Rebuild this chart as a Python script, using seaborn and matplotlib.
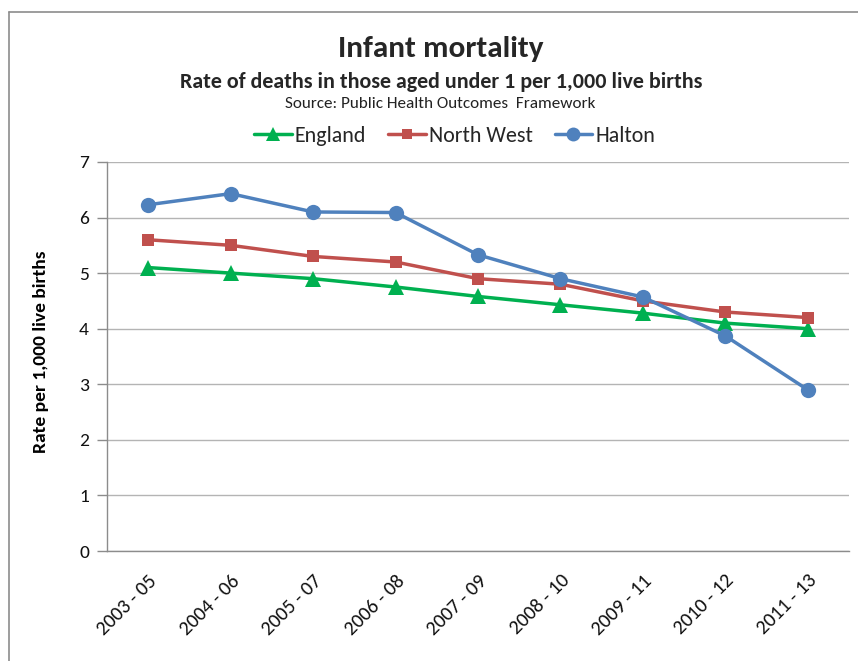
import matplotlib
matplotlib.use("Agg")
import matplotlib.pyplot as plt
from matplotlib.lines import Line2D
from matplotlib import font_manager
import numpy as np
import pandas as pd
import seaborn as sns

# Three-year pooled periods
periods = ["2003 - 05", "2004 - 06", "2005 - 07", "2006 - 08", "2007 - 09",
           "2008 - 10", "2009 - 11", "2010 - 12", "2011 - 13"]

# Infant deaths per 1,000 live births
england = [5.1, 5.0, 4.9, 4.75, 4.58, 4.43, 4.28, 4.1, 4.0]
north_west = [5.6, 5.5, 5.3, 5.2, 4.9, 4.8, 4.5, 4.3, 4.2]
halton = [6.23, 6.43, 6.1, 6.09, 5.33, 4.9, 4.57, 3.87, 2.9]

series_names = ["England", "North West", "Halton"]
series_values = [england, north_west, halton]
colors = {"England": "#00B050", "North West": "#C0504D", "Halton": "#4F81BD"}
markers = {"England": "^", "North West": "s", "Halton": "o"}
marker_sizes = {"England": 11, "North West": 8, "Halton": 11}

df = pd.DataFrame({
    "period": np.tile(np.arange(len(periods)), len(series_names)),
    "area": np.repeat(series_names, len(periods)),
    "rate": np.concatenate(series_values),
})

sns.set_theme(style="white")
installed = {f.name for f in font_manager.fontManager.ttflist}
main_font = "Carlito" if "Carlito" in installed else "Lato"
plt.rcParams["font.family"] = [main_font, "DejaVu Sans"]

fig = plt.figure(figsize=(8.58, 6.61), dpi=100)
ax = fig.add_axes([0.1247, 0.1664, 0.8648, 0.5886])

for name in series_names:
    sub = df[df["area"] == name]
    sns.lineplot(data=sub, x="period", y="rate", ax=ax, color=colors[name],
                 linewidth=2.5, marker=markers[name], markersize=marker_sizes[name],
                 markeredgewidth=0, legend=False, zorder=3)

ax.set_xlim(-0.5, len(periods) - 0.5)
ax.set_ylim(0, 7)
ax.set_yticks(range(0, 8))
ax.set_yticklabels([str(v) for v in range(0, 8)], fontsize=14, color="#111111")
ax.set_xticks(range(len(periods)))
ax.set_xticklabels(periods, rotation=45, ha="right", rotation_mode="anchor",
                   fontsize=14.5, color="#111111")
ax.set_xticks(np.arange(-0.5, len(periods)), minor=True)
ax.tick_params(axis="x", which="major", length=0, pad=15)
ax.tick_params(axis="x", which="minor", length=6, width=1, color="#8c8c8c", direction="out")
ax.tick_params(axis="y", which="major", length=7, width=1, color="#8c8c8c",
               direction="out", left=True, pad=6)

ax.grid(axis="y", color="#b4b4b4", linewidth=1)
ax.set_axisbelow(True)
for side in ["top", "right"]:
    ax.spines[side].set_visible(False)
for side in ["left", "bottom"]:
    ax.spines[side].set_color("#8c8c8c")
    ax.spines[side].set_linewidth(1)

ax.set_xlabel("")
ax.set_ylabel("Rate per 1,000 live births", fontsize=14, fontweight="bold",
              color="black")
ax.yaxis.set_label_coords(-0.078, 0.512)

fig.text(0.514, 0.926, "Infant mortality", ha="center", va="center",
         fontsize=22.5, fontweight="bold")
fig.text(0.514, 0.876, "Rate of deaths in those aged under 1 per 1,000 live births",
         ha="center", va="center", fontsize=15.8, fontweight="bold")
fig.text(0.513, 0.843, "Source: Public Health Outcomes  Framework",
         ha="center", va="center", fontsize=12.3, color="#222222")

handles = [Line2D([], [], color=colors[n], marker=markers[n], linewidth=2.5,
                  markersize=marker_sizes[n] - 1, markeredgewidth=0) for n in series_names]
fig.legend(handles, series_names, loc="center", bbox_to_anchor=(0.53, 0.795),
           ncol=3, frameon=False, fontsize=15.8, handlelength=1.7,
           handletextpad=0.15, columnspacing=1.0)

# Chart frame along the top and left
fig.add_artist(Line2D([0.0105, 1.0], [0.982, 0.982], transform=fig.transFigure,
                      color="#8c8c8c", linewidth=1.2))
fig.add_artist(Line2D([0.0105, 0.0105], [0.0, 0.982], transform=fig.transFigure,
                      color="#8c8c8c", linewidth=1.2))

fig.savefig("out.png", dpi=100)
